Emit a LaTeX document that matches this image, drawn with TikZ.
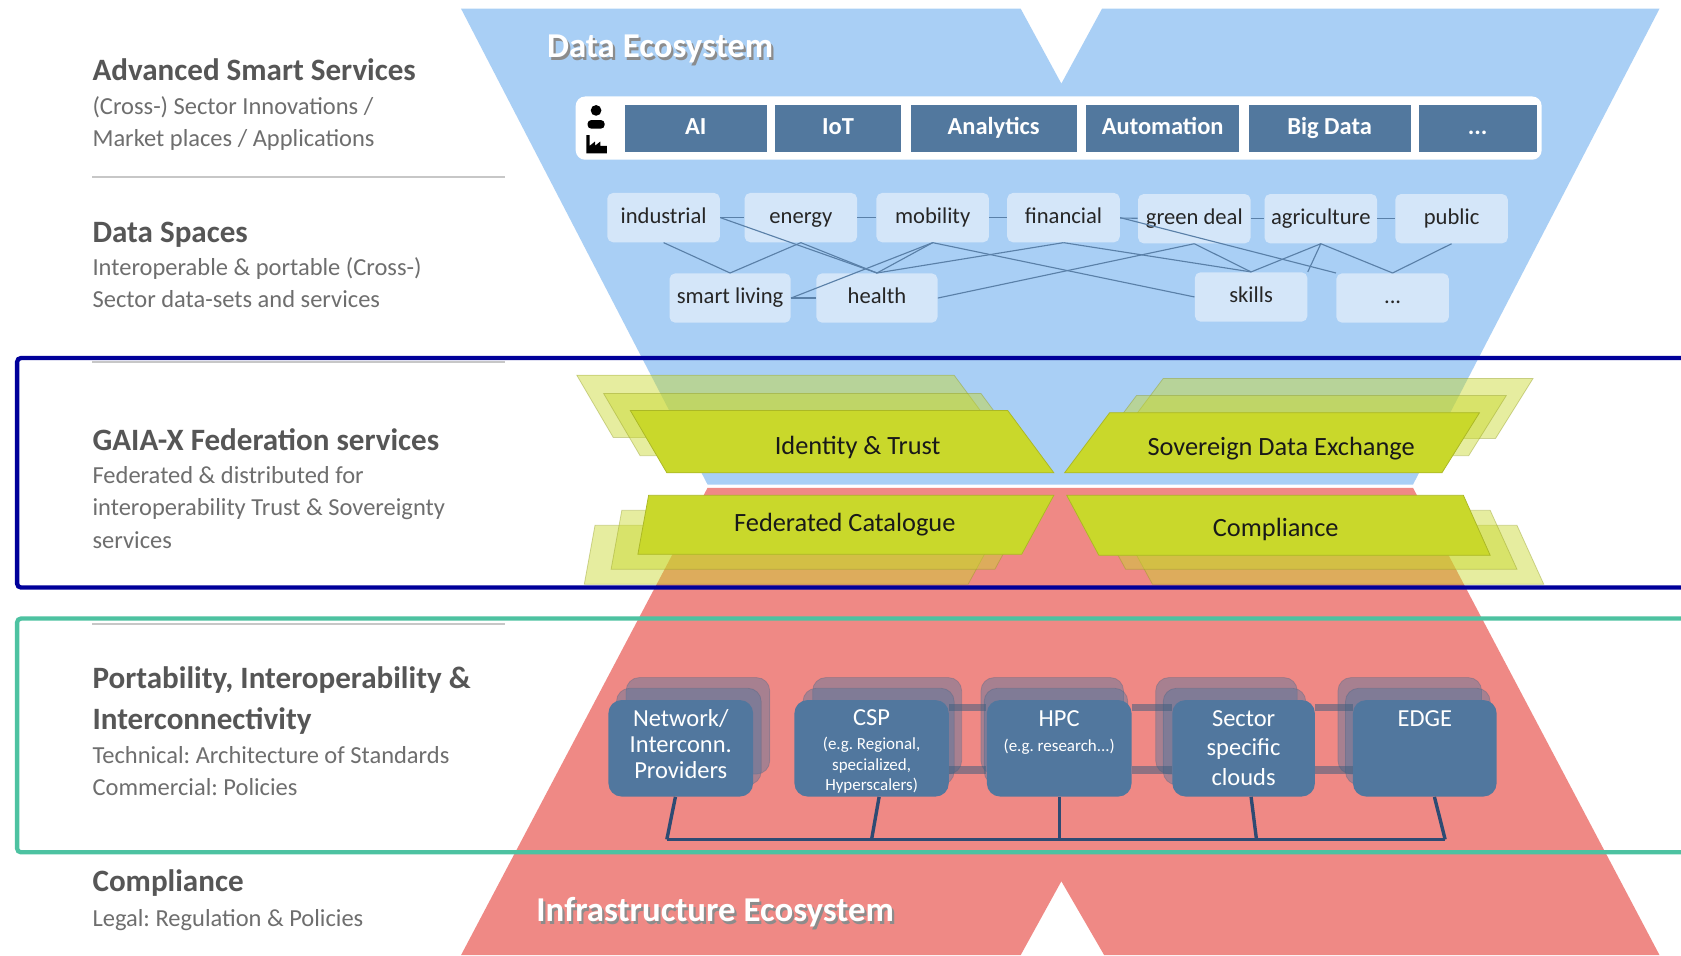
\documentclass[tikz,border=0pt]{standalone}
\usepackage{fontspec}
\setmainfont{Carlito}
\frenchspacing
\usetikzlibrary{positioning}
\definecolor{dataeco}{HTML}{A9CFF5}
\definecolor{infraeco}{HTML}{EF8985}
\definecolor{svcblue}{HTML}{52789E}
\definecolor{spacebox}{HTML}{D4E6F9}
\definecolor{spaceline}{HTML}{5A80A8}
\definecolor{fedgreen}{HTML}{C9D82B}
\definecolor{infrablue}{HTML}{51779E}
\definecolor{busline}{HTML}{2E4B73}
\definecolor{headgray}{HTML}{565656}
\definecolor{subgray}{HTML}{6E6E6E}
\definecolor{fedframe}{HTML}{00009A}
\definecolor{infraframe}{HTML}{4DC2A1}

\begin{document}
\begin{tikzpicture}[x=0.02cm,y=-0.02cm,
    head/.style={anchor=base west,inner sep=0,text=headgray,font=\fontsize{16.5}{18}\selectfont\bfseries},
    sub/.style={anchor=base west,inner sep=0,text=subgray,font=\fontsize{13}{15}\selectfont},
    sepline/.style={draw=black!22,line width=1.1pt},
    svc/.style={fill=svcblue,text=white,inner sep=0,minimum height=0.88cm,text height=9pt,text depth=2.5pt,font=\fontsize{13}{15}\selectfont\bfseries},
    space/.style={fill=spacebox,rounded corners=3pt,inner sep=0,minimum width=2.1cm,minimum height=0.92cm,text height=8.5pt,text depth=2.5pt,text=black!85,font=\fontsize{12}{14}\selectfont},
    link/.style={draw=spaceline,line width=0.6pt},
    fedfront/.style={fill=fedgreen,draw=fedgreen!85!black,line width=0.4pt},
    fedback/.style={fill=fedgreen,fill opacity=0.45,draw=fedgreen!70!black,draw opacity=0.4,line width=0.4pt},
    fedtext/.style={inner sep=0,text=black!90,font=\fontsize{14}{16}\selectfont},
    infra/.style={fill=infrablue,rounded corners=7pt,inner sep=0,minimum width=2.7cm,minimum height=1.8cm},
    infraback/.style={fill=infrablue,fill opacity=0.45,draw=infrablue!80!black,draw opacity=0.3,rounded corners=7pt},
    infratext/.style={inner sep=0,align=center,text=white,font=\fontsize{13}{14}\selectfont},
    infrabar/.style={draw=infrablue!80!black,draw opacity=0.55,line width=4pt},
    bus/.style={draw=busline,line width=1.8pt},
    ecotitle/.style={anchor=base west,inner sep=0,text=white,font=\fontsize{18.5}{20}\selectfont\bfseries},
    ecoshadow/.style={anchor=base west,inner sep=0,text=black!45,font=\fontsize{18.5}{20}\selectfont\bfseries}
  ]
  \clip (0,0) rectangle (1568,891);
  \fill[white] (0,0) rectangle (1568,891);

  \fill[dataeco] (430,8) -- (952,8) -- (990,78) -- (1028,8) -- (1548,8) -- (1318,452) -- (660,452) -- cycle;
  \fill[infraeco] (660,455) -- (1318,455) -- (1548,891) -- (1030,891) -- (990,822) -- (952,891) -- (430,891) -- cycle;

  \node[head] (asshead) at (86,75) {Advanced Smart Services};
  \node[sub] (asssub1) at (86,107) {(Cross-) Sector Innovations /};
  \node[sub] (asssub2) at (86,137) {Market places / Applications};
  \draw[sepline] (86,165) -- (471,165);
  \node[head] (dshead) at (86,226) {Data Spaces};
  \node[sub] (dssub1) at (86,257) {Interoperable \& portable (Cross-)};
  \node[sub] (dssub2) at (86,287) {Sector data-sets and services};
  \draw[sepline] (86,338) -- (471,338);
  \node[head] (gxhead) at (86,420) {GAIA-X Federation services};
  \node[sub] (gxsub1) at (86,451) {Federated \& distributed for};
  \node[sub] (gxsub2) at (86,481) {interoperability Trust \& Sovereignty};
  \node[sub] (gxsub3) at (86,512) {services};
  \draw[sepline] (86,582) -- (471,582);
  \node[head] (pihead1) at (86,642) {Portability, Interoperability \&};
  \node[head] (pihead2) at (86,680) {Interconnectivity};
  \node[sub] (pisub1) at (86,712) {Technical: Architecture of Standards};
  \node[sub] (pisub2) at (86,742) {Commercial: Policies};
  \node[head] (cohead) at (86,832) {Compliance};
  \node[sub] (cosub) at (86,864) {Legal: Regulation \& Policies};

  \node[ecoshadow] (dataecoshadow) at (512,56) {Data Ecosystem};
  \node[ecotitle] (dataeco) at (510,54) {Data Ecosystem};

  \fill[white,rounded corners=5pt] (537,90) rectangle (1438,149);
  \fill[black] (556,103) circle (5);
  \fill[black,rounded corners=2pt] (548,120) -- (548,112) -- (564,112) -- (564,120) -- cycle;
  \fill[black] (547,143) -- (547,126) -- (550,126) -- (550,136) -- (555,132) -- (555,136) -- (560,132) -- (560,136) -- (566,136) -- (566,143) -- cycle;
  \node[svc,minimum width=2.64cm] (ai) at (649,120) {AI};
  \node[svc,minimum width=2.36cm,right=0.14cm of ai] (iot) {IoT};
  \node[svc,minimum width=3.1cm,right=0.16cm of iot] (analytics) {Analytics};
  \node[svc,minimum width=2.86cm,right=0.16cm of analytics] (automation) {Automation};
  \node[svc,minimum width=3.02cm,right=0.16cm of automation] (bigdata) {Big Data};
  \node[svc,minimum width=2.2cm,right=0.14cm of bigdata] (svcmore) {...};

  \node[space] (industrial) at (619,203) {industrial};
  \node[space] (energy) at (747,203) {energy};
  \node[space] (mobility) at (870,203) {mobility};
  \node[space] (financial) at (992,203) {financial};
  \node[space] (greendeal) at (1114,204) {green deal};
  \node[space] (agriculture) at (1232,204) {agriculture};
  \node[space] (public) at (1354,204) {public};
  \node[space,minimum width=2.26cm] (smartliving) at (681,278) {smart living};
  \node[space,minimum width=2.26cm] (health) at (818,278) {health};
  \node[space] (skills) at (1167,277) {skills};
  \node[space] (spacemore) at (1299,278) {...};

  \draw[link] (industrial) -- (energy);
  \draw[link] (energy) -- (mobility);
  \draw[link] (mobility) -- (financial);
  \draw[link] (financial) -- (greendeal);
  \draw[link] (greendeal) -- (agriculture);
  \draw[link] (agriculture) -- (public);
  \draw[link] (smartliving) -- (health);
  \draw[link] (industrial.south) -- (smartliving.north);
  \draw[link] (energy.south) -- (smartliving.north);
  \draw[link] (industrial.east) -- (health.north);
  \draw[link] (energy.south) -- (health.north);
  \draw[link] (mobility.south) -- (health.north);
  \draw[link] (mobility.south) -- (smartliving.east);
  \draw[link] (financial.south) -- (health.north);
  \draw[link] (health.east) -- (greendeal.south);
  \draw[link] (mobility.south) -- (skills.west);
  \draw[link] (financial.south) -- (skills.north);
  \draw[link] (greendeal.south) -- (skills.north);
  \draw[link] (agriculture.south) -- (skills.north);
  \draw[link] (financial.east) -- (spacemore.north west);
  \draw[link] (agriculture.south) -- (spacemore.north);
  \draw[link] (public.south) -- (spacemore.north);
  \draw[link] (skills.north east) -- (agriculture.south);

  \fill[fedback] (538,350) -- (890,350) -- (933,408) -- (572,408) -- cycle;
  \fill[fedback] (563,367) -- (915,367) -- (958,425) -- (597,425) -- cycle;
  \fill[fedfront] (588,383) -- (940,383) -- (983,441) -- (622,441) -- cycle;
  \node[fedtext] (identity) at (800,417) {Identity \& Trust};

  \fill[fedback] (1085,353) -- (1430,353) -- (1395,409) -- (1043,409) -- cycle;
  \fill[fedback] (1060,369) -- (1405,369) -- (1370,425) -- (1018,425) -- cycle;
  \fill[fedfront] (1035,385) -- (1380,385) -- (1345,441) -- (993,441) -- cycle;
  \node[fedtext] (sovereign) at (1195,418) {Sovereign Data Exchange};

  \fill[fedback] (555,490) -- (933,490) -- (903,545) -- (545,545) -- cycle;
  \fill[fedback] (580,476) -- (958,476) -- (928,531) -- (570,531) -- cycle;
  \fill[fedfront] (605,462) -- (983,462) -- (953,517) -- (595,517) -- cycle;
  \node[fedtext] (catalogue) at (788,489) {Federated Catalogue};

  \fill[fedback] (1045,490) -- (1415,490) -- (1440,545) -- (1075,545) -- cycle;
  \fill[fedback] (1020,476) -- (1390,476) -- (1415,531) -- (1050,531) -- cycle;
  \fill[fedfront] (995,462) -- (1365,462) -- (1390,518) -- (1025,518) -- cycle;
  \node[fedtext] (compliance) at (1190,494) {Compliance};

  \fill[infraback] (584,632) rectangle (718,722);
  \fill[infraback] (575,642) rectangle (710,732);
  \fill[infraback] (758,632) rectangle (897,722);
  \fill[infraback] (749,642) rectangle (890,732);
  \fill[infraback] (915,632) rectangle (1048,722);
  \fill[infraback] (918,642) rectangle (1052,732);
  \fill[infraback] (1078,632) rectangle (1210,722);
  \fill[infraback] (1085,642) rectangle (1218,732);
  \fill[infraback] (1248,632) rectangle (1382,722);
  \fill[infraback] (1255,642) rectangle (1390,732);

  \node[infra] (network) at (635,698) {};
  \node[infra,minimum width=2.88cm] (csp) at (813,698) {};
  \node[infra] (hpc) at (988,698) {};
  \node[infra,minimum width=2.66cm] (sector) at (1160,698) {};
  \node[infra,minimum width=2.68cm] (edge) at (1329,698) {};

  \draw[infrabar] ([yshift=0.76cm]csp.east) -- ([yshift=0.76cm]hpc.west);
  \draw[infrabar] ([yshift=0.76cm]hpc.east) -- ([yshift=0.76cm]sector.west);
  \draw[infrabar] ([yshift=0.76cm]sector.east) -- ([yshift=0.76cm]edge.west);
  \draw[infrabar] ([yshift=-0.4cm]csp.east) -- ([yshift=-0.4cm]hpc.west);
  \draw[infrabar] ([yshift=-0.4cm]hpc.east) -- ([yshift=-0.4cm]sector.west);
  \draw[infrabar] ([yshift=-0.4cm]sector.east) -- ([yshift=-0.4cm]edge.west);

  \node[infratext,below=0.17cm of network.north] (networktext) {Network/\\Interconn.\\Providers};
  \node[infratext,below=0.17cm of csp.north] (csptext) {CSP\\[-1pt]{\fontsize{9}{10}\selectfont (e.g. Regional,}\\[-3pt]{\fontsize{9}{10}\selectfont specialized,}\\[-3pt]{\fontsize{9}{10}\selectfont Hyperscalers)}};
  \node[infratext,below=0.2cm of hpc.north] (hpctext) {HPC\\[-1pt]{\fontsize{9}{10}\selectfont (e.g. research...)}};
  \node[infratext,below=0.2cm of sector.north,font=\fontsize{13}{15.5}\selectfont] (sectortext) {Sector\\specific\\clouds};
  \node[infratext,below=0.2cm of edge.north] (edgetext) {EDGE};

  \coordinate (networkbus) at (622,783);
  \coordinate (cspbus) at (813,783);
  \coordinate (hpcbus) at (988,783);
  \coordinate (sectorbus) at (1172,783);
  \coordinate (edgebus) at (1348,783);
  \draw[bus] ([xshift=-0.1cm]network.south) -- (networkbus);
  \draw[bus] ([xshift=0.14cm]csp.south) -- (cspbus);
  \draw[bus] (hpc.south) -- (hpcbus);
  \draw[bus] ([xshift=0.14cm]sector.south) -- (sectorbus);
  \draw[bus] ([xshift=0.18cm]edge.south) -- (edgebus);
  \draw[bus] (networkbus) -- (edgebus);

  \node[ecoshadow] (infraecoshadow) at (502,862) {Infrastructure Ecosystem};
  \node[ecotitle] (infraecotitle) at (500,860) {Infrastructure Ecosystem};

  \draw[fedframe,line width=2.3pt,rounded corners=2pt] (16,334) rectangle (1600,548);
  \draw[infraframe,line width=2.3pt,rounded corners=2pt] (16,577) rectangle (1600,795);
\end{tikzpicture}
\end{document}
